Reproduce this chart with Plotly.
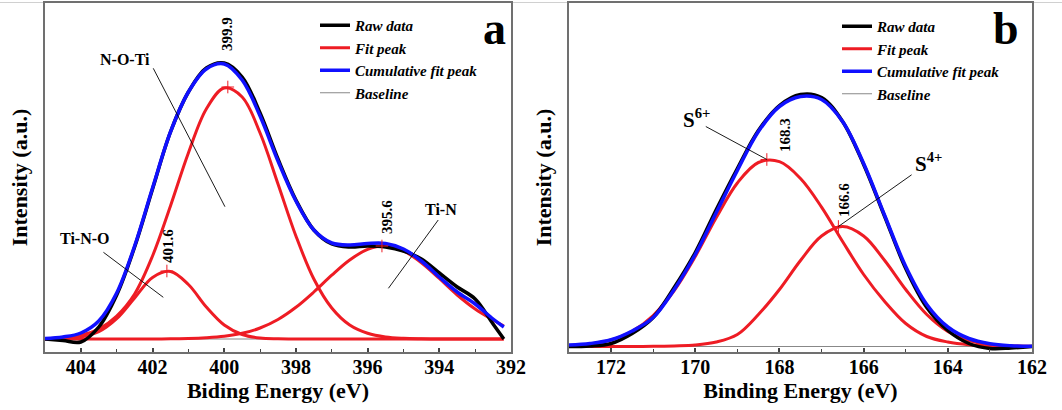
import plotly.graph_objects as go

# ---------------- Panel a : N 1s ----------------
energy_a = [405.0, 404.5, 404.0, 403.5, 403.0, 402.5, 402.0, 401.5, 401.0, 400.5,
            400.0, 399.5, 399.0, 398.5, 398.0, 397.5, 397.0, 396.5, 396.0, 395.5,
            395.0, 394.5, 394.0, 393.5, 393.0, 392.5, 392.2]
raw_a = [0, -1.5, -3, 12, 44, 92, 150, 207, 247, 271,
         276, 262, 226, 180, 139, 109, 95, 92, 93, 92,
         88, 80, 66, 52, 40, 15, 0]
cum_a = [0.5, 2, 6, 18, 46, 93, 151, 207, 247, 270,
         275, 259, 223, 178, 138, 109, 96, 94, 95.5, 95.5,
         90, 78, 62, 47, 35, 20, 12]
fit_tino_a = [0.1, 0.4, 1.9, 7.3, 20.3, 41, 61.5, 67.5, 54.5, 32,
              14, 4.5, 1, 0.2, 0, 0, 0, 0, 0, 0,
              0, 0, 0, 0, 0, 0, 0]
fit_noti_a = [0.4, 1.3, 3.9, 10, 23, 45, 83, 133, 186, 230,
              251, 242, 206, 155, 103, 60, 31, 14, 5.8, 2.1,
              0.7, 0.2, 0, 0, 0, 0, 0]
fit_tin_a = [0, 0, 0, 0, 0, 0, 0.05, 0.2, 0.45, 1.2,
             2.7, 5.7, 11, 19.5, 31.7, 47, 63.8, 79, 89.7, 93,
             88, 76.3, 60.5, 44, 30, 19, 13]
base_x_a = [405.0, 392.2]
base_y_a = [0, 0]
peak_pos_a = [401.6, 399.9, 395.6]
peak_h_a = [68, 252, 93]
peak_lbl_a = ["401.6", "399.9", "395.6"]
ticks_a = [404, 402, 400, 398, 396, 394, 392]

# ---------------- Panel b : S 2p ----------------
energy_b = [173.0, 172.5, 172.0, 171.5, 171.0, 170.5, 170.0, 169.5, 169.0, 168.5,
            168.0, 167.5, 167.0, 166.5, 166.0, 165.5, 165.0, 164.5, 164.0, 163.5,
            163.0, 162.5, 162.0]
raw_b = [0, 0.5, 3, 13, 29, 59, 94, 137, 178, 216,
         241, 252, 249, 225, 182, 130, 78, 39, 16, 3,
         -2, -1.5, 0]
cum_b = [1.5, 3, 6.7, 15.5, 29, 57, 92, 134, 176, 215,
         240, 250, 247, 225, 183, 131, 80, 42, 19.5, 8,
         2.8, 0.8, 0.2]
fit_s6_b = [0.9, 2.6, 6.6, 15.2, 31, 56, 90, 129, 163.5, 184,
            184.8, 168, 139.4, 105, 72, 45, 23, 10, 4.5, 1.8,
            0.7, 0.2, 0.1]
fit_s4_b = [0, 0, 0, 0.05, 0.15, 0.6, 1.5, 4.5, 12, 32,
            57, 86, 110.5, 120, 110.5, 86, 57, 32, 15, 6,
            2, 0.6, 0.15]
base_x_b = [173.0, 162.0]
base_y_b = [0, 0]
peak_pos_b = [168.3, 166.6]
peak_h_b = [187, 120]
peak_lbl_b = ["168.3", "166.6"]
ticks_b = [172, 170, 168, 166, 164, 162]

RED = "#ee1c24"
BLUE = "#1010ff"
FONT = "Liberation Serif"
AXC = "#707070"

fig = go.Figure()


def add_panel(xa, ya, leg, ex, raw, cum, fits, bx, by, px, ph):
    fig.add_trace(go.Scatter(x=bx, y=by, mode="lines", name="Baseline",
                             line=dict(color="#888888", width=1),
                             xaxis=xa, yaxis=ya, legend=leg, legendrank=4))
    for i, f in enumerate(fits):
        fig.add_trace(go.Scatter(x=ex, y=f, mode="lines", name="Fit peak",
                                 line=dict(color=RED, width=3, shape="spline", smoothing=1),
                                 showlegend=(i == 0), xaxis=xa, yaxis=ya, legend=leg,
                                 legendrank=2))
    fig.add_trace(go.Scatter(x=ex, y=raw, mode="lines", name="Raw data",
                             line=dict(color="black", width=3.5, shape="spline", smoothing=1),
                             xaxis=xa, yaxis=ya, legend=leg, legendrank=1))
    fig.add_trace(go.Scatter(x=ex, y=cum, mode="lines", name="Cumulative fit peak",
                             line=dict(color=BLUE, width=3.5, shape="spline", smoothing=1),
                             xaxis=xa, yaxis=ya, legend=leg, legendrank=3))
    fig.add_trace(go.Scatter(x=px, y=ph, mode="markers", showlegend=False,
                             marker=dict(symbol="cross-thin", size=9,
                                         line=dict(color=RED, width=1)),
                             xaxis=xa, yaxis=ya))


add_panel("x", "y", "legend", energy_a, raw_a, cum_a,
          [fit_tino_a, fit_noti_a, fit_tin_a], base_x_a, base_y_a, peak_pos_a, peak_h_a)
add_panel("x2", "y2", "legend2", energy_b, raw_b, cum_b,
          [fit_s6_b, fit_s4_b], base_x_b, base_y_b, peak_pos_b, peak_h_b)

W, H = 1062, 410


def xaxis_cfg(dom, rng, ticks, title):
    return dict(domain=dom, range=rng, tickvals=ticks, ticktext=[str(t) for t in ticks],
                ticks="inside", ticklen=4, tickwidth=1.5, tickcolor="#444",
                ticklabelstandoff=-4,
                minor=dict(dtick=1, tick0=0, ticks="inside", ticklen=3, tickwidth=1.2, tickcolor="#444"),
                showline=True, linecolor=AXC, linewidth=1.5, mirror=True,
                showgrid=False, zeroline=False, automargin=False,
                tickfont=dict(family=FONT, size=20, color="black", weight="bold"),
                title=dict(text=title, standoff=2,
                           font=dict(family=FONT, size=22, color="black", weight="bold")))


def yaxis_cfg(dom, rng, anchor):
    return dict(domain=dom, range=rng, anchor=anchor, showticklabels=False, ticks="",
                showline=True, linecolor=AXC, linewidth=1.5, mirror=True,
                showgrid=False, zeroline=False, automargin=False,
                title=dict(text="Intensity (a.u.)", standoff=10,
                           font=dict(family=FONT, size=22, color="black", weight="bold")))


ydom = [58 / H, 407 / H]
fig.update_layout(
    width=W, height=H, template="none",
    margin=dict(l=0, r=0, t=0, b=0),
    paper_bgcolor="white", plot_bgcolor="white",
    xaxis=xaxis_cfg([45 / W, 511 / W], [405, 392], ticks_a, "Biding Energy (eV)"),
    yaxis=yaxis_cfg(ydom, [-13, 336], "x"),
    xaxis2=xaxis_cfg([569 / W, 1032 / W], [173, 162], ticks_b, "Binding Energy (eV)"),
    yaxis2=yaxis_cfg(ydom, [-5.5, 343.5], "x2"),
    legend=dict(x=315 / W, y=1 - 9 / H, xanchor="left", yanchor="top",
                bgcolor="rgba(0,0,0,0)", itemwidth=30, tracegroupgap=0,
                font=dict(family=FONT, size=15, color="black", style="italic", weight="bold")),
    legend2=dict(x=837 / W, y=1 - 10 / H, xanchor="left", yanchor="top",
                 bgcolor="rgba(0,0,0,0)", itemwidth=30, tracegroupgap=0,
                 font=dict(family=FONT, size=15, color="black", style="italic", weight="bold")),
)
fig.update_layout(xaxis2_anchor="y2", xaxis_anchor="y")

ann = []
lf = dict(family=FONT, size=15, color="black", weight="bold")
# peak value labels (rotated)
for xr, yr, xs, ys, txt in [("x", "y", 399.92, 305, "399.9"), ("x", "y", 401.57, 93, "401.6"),
                            ("x", "y", 395.46, 122, "395.6"),
                            ("x2", "y2", 167.88, 211, "168.3"), ("x2", "y2", 166.48, 147, "166.6")]:
    ann.append(dict(x=xs, y=ys, xref=xr, yref=yr, text=txt, showarrow=False,
                    textangle=-90, font=lf))
nf = dict(family=FONT, size=16, color="black", weight="bold")
for xs, ys, txt in [(402.77, 280, "N-O-Ti"), (403.91, 101, "Ti-N-O"), (393.95, 130, "Ti-N")]:
    ann.append(dict(x=xs, y=ys, xref="x", yref="y", text=txt, showarrow=False, font=nf))
sf = dict(family=FONT, size=21, color="black", weight="bold")
ann.append(dict(x=169.96, y=228, xref="x2", yref="y2", text="S<sup>6+</sup>", showarrow=False, font=sf))
ann.append(dict(x=164.45, y=184, xref="x2", yref="y2", text="S<sup>4+</sup>", showarrow=False, font=sf))
bf = dict(family=FONT, size=46, color="black", weight="bold")
ann.append(dict(x=392.47, y=311, xref="x", yref="y", text="a", showarrow=False, font=bf))
ann.append(dict(x=162.62, y=318, xref="x2", yref="y2", text="b", showarrow=False, font=bf))
fig.update_layout(annotations=ann)

shapes = []
for xr, yr, x0, y0, x1, y1 in [("x", "y", 401.98, 270.7, 399.98, 132.3),
                               ("x", "y", 403.37, 86.7, 401.70, 41.7),
                               ("x", "y", 394.03, 119, 395.42, 50.7),
                               ("x2", "y2", 169.75, 220, 168.3, 187),
                               ("x2", "y2", 164.86, 171.7, 166.6, 120)]:
    shapes.append(dict(type="line", xref=xr, yref=yr, x0=x0, y0=y0, x1=x1, y1=y1,
                       line=dict(color="black", width=0.9)))
shapes.append(dict(type="line", xref="paper", yref="paper", x0=0, x1=1, y0=1 - 2.5 / H, y1=1 - 2.5 / H,
                   line=dict(color="#d0d0d0", width=1), layer="below"))
fig.update_layout(shapes=shapes)

fig.write_html("out.html", config={"displayModeBar": False},
               post_script="document.body.style.margin='0px';")
